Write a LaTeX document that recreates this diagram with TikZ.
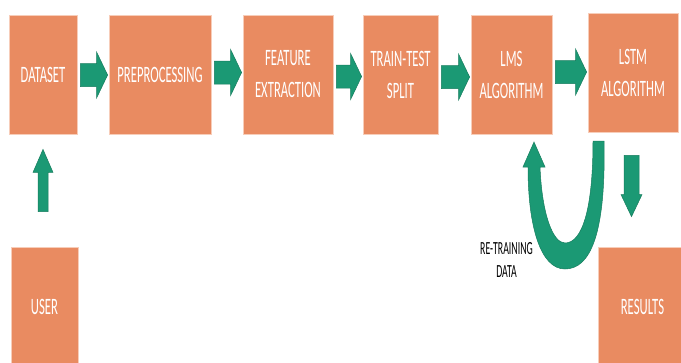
\documentclass[tikz,border=0pt]{standalone}
\usepackage{fontspec}
\setmainfont{Carlito}
\newfontfamily\boxfont{Carlito}[FakeStretch=0.54]
\newfontfamily\notefont{Carlito}[FakeStretch=0.53]
\usetikzlibrary{calc}
\definecolor{boxorange}{RGB}{233,139,97}
\definecolor{boxedge}{RGB}{247,205,185}
\definecolor{arrowgreen}{RGB}{27,153,116}
\definecolor{arrowedge}{RGB}{22,125,94}
\tikzset{
  stage/.style={draw=boxedge, line width=0.8pt, fill=boxorange, text=white,
    font=\boxfont\fontsize{23.5}{32}\selectfont, align=center, inner sep=0pt},
  blk/.style={fill=arrowgreen, draw=arrowedge, line width=0.5pt, line join=miter},
  notetext/.style={font=\notefont\fontsize{18.5}{23}\selectfont, text=black, align=center, inner sep=0pt}
}
% horizontal block arrow: from node, to node, y centre
\newcommand\harrow[3]{%
  \path[blk] let \p1=(#1.east), \p2=(#2.west), \p3=(0,#3) in
    (\x1+3pt,\y3+11.5pt) -- (\x2-12pt,\y3+11.5pt) -- (\x2-12pt,\y3+23pt) -- (\x2-1pt,\y3)
    -- (\x2-12pt,\y3-23pt) -- (\x2-12pt,\y3-11.5pt) -- (\x1+3pt,\y3-11.5pt) -- cycle;}
\begin{document}
\begin{tikzpicture}[x=1pt,y=-1pt]
\clip (0,0) rectangle (681,362);
\fill[white] (0,0) rectangle (681,362);

\node[stage, minimum width=68, minimum height=119] (dataset) at (43,74.5) {DATASET};
\node[stage, minimum width=102, minimum height=119] (preproc) at (160,74.5) {PREPROCESSING};
\node[stage, minimum width=90, minimum height=119] (feature) at (288,74.5) {FEATURE\\EXTRACTION};
\node[stage, minimum width=75, minimum height=119] (split) at (400.5,74.5) {TRAIN-TEST\\SPLIT};
\node[stage, minimum width=81, minimum height=119] (lms) at (511.5,74.5) {LMS\\ALGORITHM};
\node[stage, minimum width=90, minimum height=119] (lstm) at (633,72.5) {LSTM\\ALGORITHM};
\node[stage, minimum width=67, minimum height=119] (user) at (44.5,306.5) {USER};
\node[stage, minimum width=89, minimum height=119] (results) at (642.5,306.5) {RESULTS};

\harrow{dataset}{preproc}{75}
\harrow{preproc}{feature}{72.5}
\harrow{feature}{split}{76.5}
\harrow{split}{lms}{77}
\harrow{lms}{lstm}{72}

% user -> dataset
\path[blk] let \p1=($(user.north)+(-1.5,-35)$), \p2=($(dataset.south)+(0,15)$) in
  (\x1-5pt,\y1) -- (\x1-5pt,\y2-23pt) -- (\x1-10pt,\y2-23pt) -- (\x1,\y2)
  -- (\x1+10pt,\y2-23pt) -- (\x1+5pt,\y2-23pt) -- (\x1+5pt,\y1) -- cycle;

% lstm -> results
\path[blk] let \p1=($(lstm.south)+(-1.5,23)$), \p2=($(results.north)+(0,-30)$) in
  (\x1-7.5pt,\y1) -- (\x1-7.5pt,\y2+22pt) -- (\x1-10.5pt,\y2+22pt) -- (\x1,\y2)
  -- (\x1+10.5pt,\y2+22pt) -- (\x1+7.5pt,\y2+22pt) -- (\x1+7.5pt,\y1) -- cycle;

% re-training U arrow from lstm back to lms
\path[blk] (604,141) .. controls (606,235) and (590,269) .. (565,269)
  .. controls (540,269) and (528,225) .. (528,167)
  -- (523,167) -- (534,142) -- (545,167) -- (540,167)
  .. controls (542,215) and (553,243) .. (565,243)
  .. controls (582,243) and (593,210) .. (593,141) -- cycle;

\node[notetext] (retrain) at (506.5,259.5) {RE-TRAINING\\DATA};
\end{tikzpicture}
\end{document}
